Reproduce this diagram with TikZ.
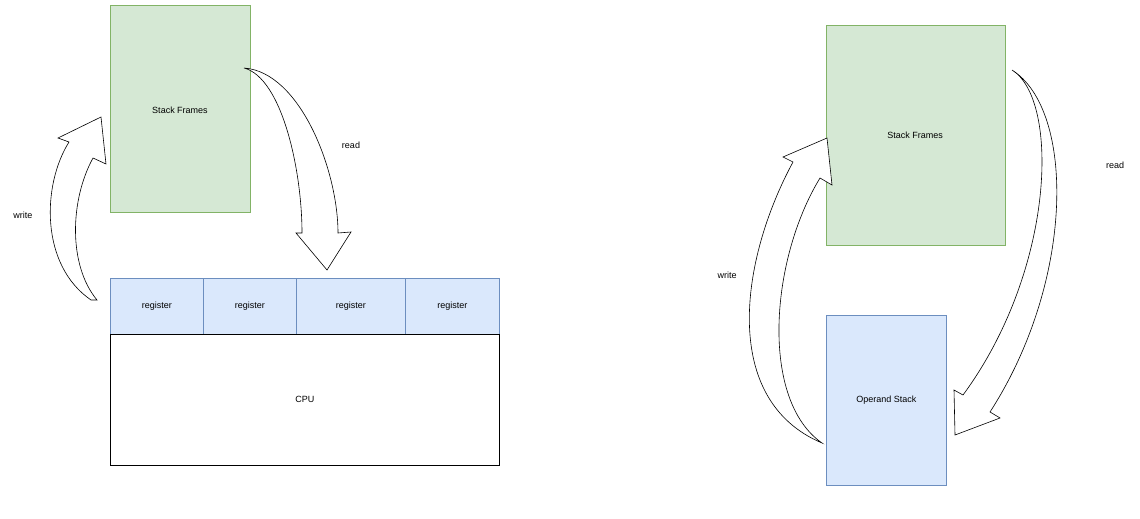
\documentclass[tikz,border=0pt]{standalone}
\usepackage{fontspec}
\setmainfont{Liberation Sans}
\begin{document}
\begin{tikzpicture}[x=1pt,y=-1pt,
  green/.style={draw=green!40!black!50!white,fill=green!15!white!95!black,line width=0.8pt},
  gbox/.style={draw={rgb,255:red,130;green,179;blue,102},fill={rgb,255:red,213;green,232;blue,212},line width=0.7pt,inner sep=0pt},
  bbox/.style={draw={rgb,255:red,108;green,142;blue,191},fill={rgb,255:red,218;green,232;blue,252},line width=0.7pt,inner sep=0pt},
  wbox/.style={draw=black,fill=white,line width=0.7pt,inner sep=0pt},
  lab/.style={font=\fontsize{9}{11}\selectfont},
  blk/.style={draw=black,fill=white,line width=0.6pt,line join=miter}]
\useasboundingbox (0,0) rectangle (1140,519);
% left
\node[gbox,minimum width=140pt,minimum height=207pt,anchor=north west] (sf1) at (110,5) {};
\node[lab] at (180,110) {Stack Frames};
\node[bbox,minimum width=93pt,minimum height=56pt,anchor=north west,lab] (r1) at (110,278) {register};
\node[bbox,minimum width=93pt,minimum height=56pt,anchor=north west,lab] (r2) at (203,278) {register};
\node[bbox,minimum width=109pt,minimum height=56pt,anchor=north west,lab] (r3) at (296,278) {register};
\node[bbox,minimum width=94pt,minimum height=56pt,anchor=north west,lab] (r4) at (405,278) {register};
\node[wbox,minimum width=389pt,minimum height=131pt,anchor=north west,lab] (cpu) at (110,334) {CPU};
% left read arrow
\draw[blk] (244,68) .. controls (300,72) and (338,170) .. (338,233) -- (351,232) -- (327,270) -- (296,233) -- (302,233) .. controls (302,170) and (282,78) .. (244,68) -- cycle;
% left write arrow
\draw[blk] (91,300) .. controls (40,265) and (42,185) .. (69,142) -- (58,138) -- (101,117) -- (106,164) -- (93,158) .. controls (70,200) and (68,265) .. (97,300) -- cycle;
\node[lab] (w1) at (23,215) {write};
\node[lab] (rd1) at (351,145) {read};
% right
\node[gbox,minimum width=179pt,minimum height=220pt,anchor=north west] (sf2) at (826,25) {};
\node[lab] at (915,135) {Stack Frames};
\node[bbox,minimum width=120pt,minimum height=170pt,anchor=north west,lab] (os) at (826,315) {Operand Stack};
% right read
\draw[blk] (1012,70) .. controls (1075,110) and (1075,280) .. (990,412) -- (1000,418) -- (955,435) -- (954,390) -- (963,395) .. controls (1055,270) and (1060,100) .. (1012,70) -- cycle;
% right write
\draw[blk] (822,443) .. controls (720,400) and (740,260) .. (793,162) -- (783,157) -- (827,138) -- (832,185) -- (820,178) .. controls (770,260) and (760,400) .. (822,443) -- cycle;
\node[lab] (w2) at (727,275) {write};
\node[lab] (rd2) at (1115,165) {read};
\end{tikzpicture}
\end{document}
